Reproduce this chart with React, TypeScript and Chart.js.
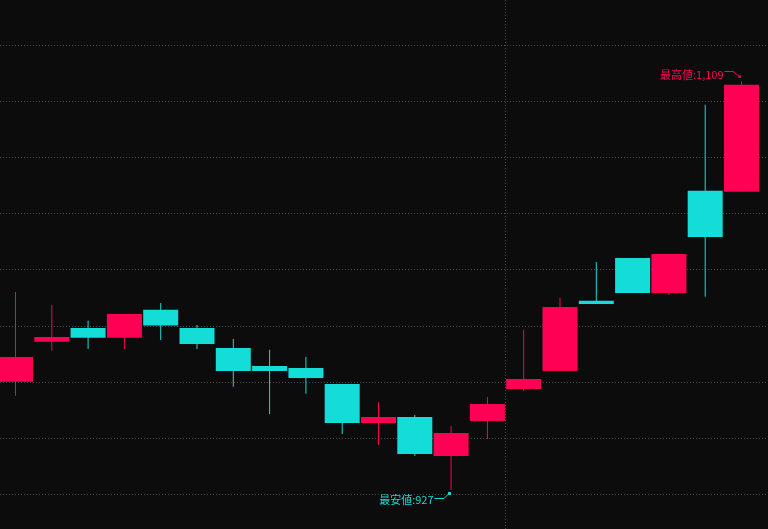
import React, { useEffect, useRef } from "react";
import { Chart, registerables } from "chart.js";

Chart.register(...registerables);

// ---- data ----
const periods = [0, 1, 2, 3, 4, 5, 6, 7, 8, 9, 10, 11, 12, 13, 14, 15, 16, 17, 18, 19, 20];
const opens = [975.2, 993.0, 999.1, 994.8, 1007.2, 999.1, 990.2, 982.2, 981.3, 974.2, 956.8, 959.5, 942.1, 957.7, 972.0, 980.0, 1011.2, 1030.3, 1014.7, 1060.2, 1059.8];
const highs = [1015.2, 1009.4, 1002.3, 1005.4, 1010.3, 1000.5, 994.2, 989.4, 986.2, 974.2, 966.2, 960.4, 955.5, 968.4, 998.3, 1012.5, 1028.5, 1030.3, 1032.1, 1098.5, 1109];
const lows = [969.0, 989.0, 989.8, 989.8, 993.8, 989.8, 972.9, 960.8, 969.8, 951.9, 947.0, 942.1, 927, 949.7, 971.1, 980.0, 1009.8, 1014.7, 1013.8, 1013.0, 1059.8];
const closes = [986.2, 995.1, 994.8, 1005.4, 1000.2, 992.0, 980.0, 980.0, 976.9, 956.8, 959.5, 943.0, 952.4, 965.3, 976.4, 1008.5, 1009.8, 1014.7, 1032.1, 1039.7, 1107.4];
const yTicks = [925, 950, 975, 1000, 1025, 1050, 1075, 1100, 1125];
const sessionBreak = 13.5;

const UP = "#FF0055";
const DOWN = "#14DDD8";
const GRID = "#4a4a4a";
const BG = "#0c0c0c";

const hiLoPlugin = {
  id: "hiLo",
  afterDatasetsDraw(chart: any) {
    const { ctx, scales } = chart;
    const x = scales.x;
    const y = scales.y;
    let hi = 0;
    let lo = 0;
    highs.forEach((v, i) => {
      if (v > highs[hi]) hi = i;
    });
    lows.forEach((v, i) => {
      if (v < lows[lo]) lo = i;
    });
    ctx.save();
    ctx.font = '11px "Noto Sans CJK JP", sans-serif';
    ctx.textAlign = "right";
    ctx.textBaseline = "middle";
    ctx.lineWidth = 1;

    // high
    const hx = Math.floor(x.getPixelForValue(periods[hi])) + 0.5;
    const hy = Math.round(y.getPixelForValue(highs[hi]));
    ctx.fillStyle = UP;
    ctx.strokeStyle = UP;
    ctx.fillText("最高値:" + highs[hi].toLocaleString("en-US"), hx - 18, hy - 6);
    ctx.beginPath();
    ctx.moveTo(hx - 17, hy - 9.5);
    ctx.lineTo(hx - 8.5, hy - 9.5);
    ctx.lineTo(hx - 2.5, hy - 5);
    ctx.stroke();
    ctx.beginPath();
    ctx.moveTo(hx - 0.5, hy - 3);
    ctx.lineTo(hx - 4, hy - 3.5);
    ctx.lineTo(hx - 1, hy - 6.5);
    ctx.closePath();
    ctx.fill();

    // low
    const lx = Math.floor(x.getPixelForValue(periods[lo])) + 0.5;
    const ly = Math.round(y.getPixelForValue(lows[lo]));
    ctx.fillStyle = DOWN;
    ctx.strokeStyle = DOWN;
    ctx.fillText("最安値:" + lows[lo].toLocaleString("en-US"), lx - 18, ly + 10);
    ctx.beginPath();
    ctx.moveTo(lx - 17, ly + 8.5);
    ctx.lineTo(lx - 7.5, ly + 8.5);
    ctx.lineTo(lx - 3.5, ly + 4.5);
    ctx.stroke();
    ctx.fillRect(lx - 3.5, ly + 2, 3, 3);
    ctx.restore();
  },
};

export default function App() {
  const ref = useRef<HTMLCanvasElement | null>(null);

  useEffect(() => {
    document.body.style.margin = "0";
    const canvas = ref.current;
    if (!canvas) return;
    const colors = periods.map((_, i) => (closes[i] >= opens[i] ? UP : DOWN));
    const axisCommon = {
      display: true,
      offset: false,
      grid: { color: GRID, lineWidth: 1, drawTicks: false, offset: false },
      border: { display: false, dash: [1, 2] },
      ticks: { display: false },
    };
    const chart = new Chart(canvas, {
      type: "bar",
      data: {
        datasets: [
          {
            label: "wick",
            data: periods.map((p, i) => ({ x: p, y: [lows[i], highs[i]] })) as any,
            backgroundColor: colors,
            borderWidth: 0,
            barThickness: 1,
            grouped: false,
            inflateAmount: 0,
            order: 2,
          } as any,
          {
            label: "body",
            data: periods.map((p, i) => ({ x: p, y: [opens[i], closes[i]] })) as any,
            backgroundColor: colors,
            borderWidth: 0,
            barThickness: 35,
            grouped: false,
            inflateAmount: 0,
            order: 1,
          } as any,
        ],
      },
      options: {
        animation: false,
        responsive: false,
        maintainAspectRatio: false,
        devicePixelRatio: 1,
        layout: { padding: 0 },
        plugins: { legend: { display: false }, tooltip: { enabled: false } },
        scales: {
          x: {
            ...axisCommon,
            type: "linear",
            min: -0.427,
            max: 20.73,
            afterBuildTicks: (s: any) => {
              s.ticks = [{ value: sessionBreak }];
            },
          } as any,
          y: {
            ...axisCommon,
            type: "linear",
            min: 909.6,
            max: 1145.2,
            afterBuildTicks: (s: any) => {
              s.ticks = yTicks.map((v) => ({ value: v }));
            },
          } as any,
        },
      },
      plugins: [hiLoPlugin],
    });
    return () => chart.destroy();
  }, []);

  return (
    <div style={{ position: "fixed", left: 0, top: 0, width: 768, height: 529, background: BG }}>
      <canvas ref={ref} width={768} height={529} style={{ display: "block", width: 768, height: 529 }} />
    </div>
  );
}
